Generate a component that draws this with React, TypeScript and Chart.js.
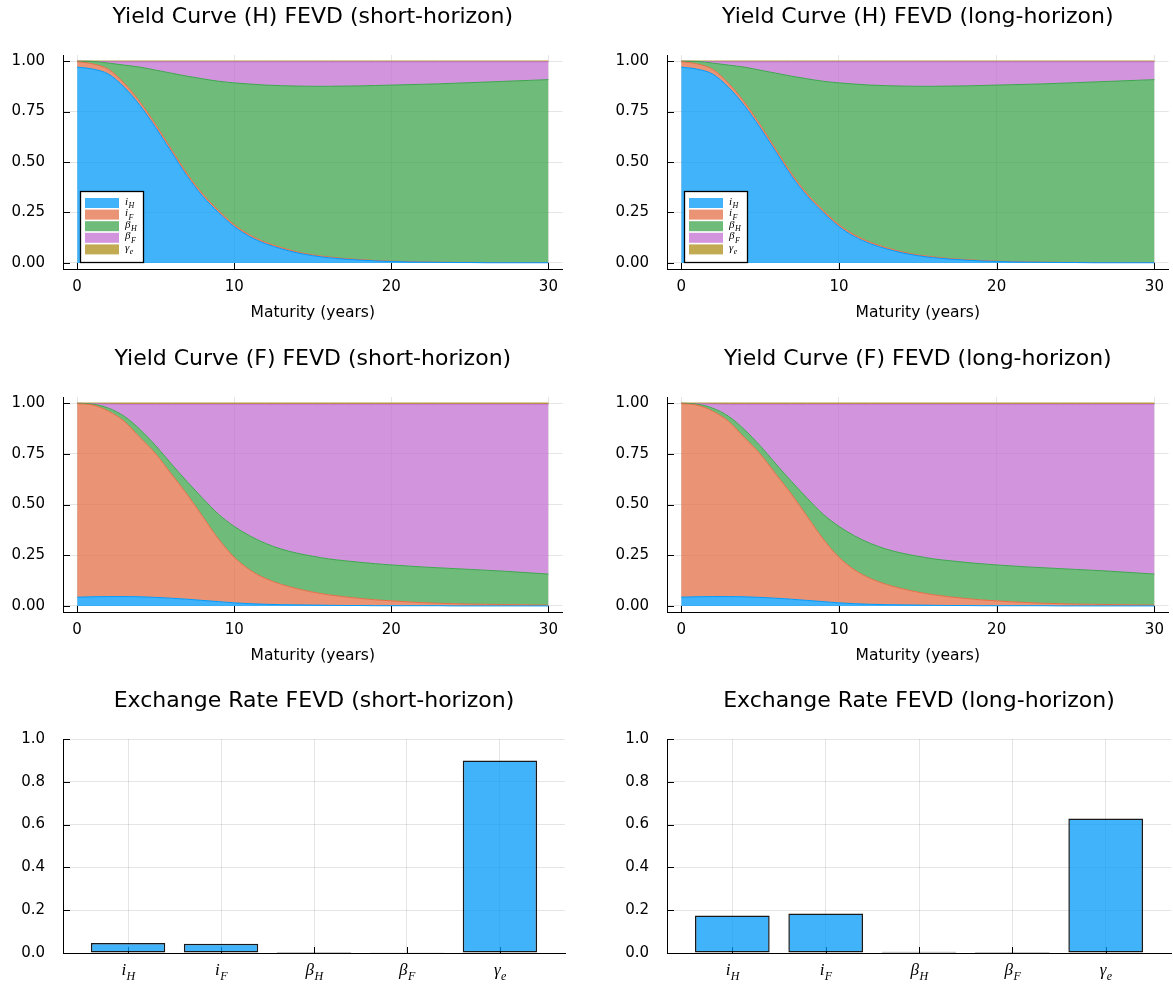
import React, { useEffect, useRef } from "react";
import { Chart, registerables } from "chart.js";

Chart.register(...registerables);

// ---------- data ----------
const maturities = [0, 1, 2, 3, 4, 5, 6, 7, 8, 9, 10, 11, 12, 13, 14, 15, 16, 17, 18, 19, 20, 21, 22, 23, 24, 25, 26, 27, 28, 29, 30];
const shockBase = ["i", "i", "β", "β", "γ"];
const shockSub = ["H", "F", "H", "F", "e"];
const xTicks = [0, 10, 20, 30];
const yTicksArea = [0, 0.25, 0.5, 0.75, 1];
const yTicksBar = [0, 0.2, 0.4, 0.6, 0.8, 1.0];

// Yield curve (H) FEVD shares by shock
const hShort_iH = [0.970, 0.960, 0.935, 0.870, 0.780, 0.670, 0.550, 0.430, 0.330, 0.250, 0.180, 0.130, 0.095, 0.070, 0.050, 0.036, 0.026, 0.019, 0.014, 0.010, 0.007, 0.005, 0.004, 0.003, 0.002, 0.002, 0.001, 0.001, 0.001, 0.001, 0.001];
const hShort_iF = [0.027, 0.026, 0.024, 0.020, 0.017, 0.015, 0.013, 0.012, 0.011, 0.010, 0.009, 0.008, 0.007, 0.006, 0.005, 0.004, 0.004, 0.003, 0.003, 0.002, 0.002, 0.002, 0.001, 0.001, 0.001, 0.001, 0.001, 0.001, 0.001, 0.001, 0.001];
const hShort_bH = [0.002, 0.012, 0.031, 0.090, 0.173, 0.270, 0.377, 0.483, 0.571, 0.640, 0.703, 0.748, 0.779, 0.802, 0.821, 0.835, 0.845, 0.854, 0.860, 0.867, 0.872, 0.876, 0.880, 0.883, 0.887, 0.890, 0.894, 0.897, 0.900, 0.903, 0.906];
const hShort_bF = [0.000, 0.000, 0.007, 0.016, 0.026, 0.041, 0.056, 0.071, 0.084, 0.096, 0.104, 0.110, 0.115, 0.118, 0.120, 0.121, 0.121, 0.120, 0.119, 0.117, 0.115, 0.113, 0.111, 0.109, 0.106, 0.103, 0.100, 0.097, 0.094, 0.091, 0.088];
const hShort_ge = [0.001, 0.002, 0.003, 0.004, 0.004, 0.004, 0.004, 0.004, 0.004, 0.004, 0.004, 0.004, 0.004, 0.004, 0.004, 0.004, 0.004, 0.004, 0.004, 0.004, 0.004, 0.004, 0.004, 0.004, 0.004, 0.004, 0.004, 0.004, 0.004, 0.004, 0.004];

const hLong_iH = [0.970, 0.960, 0.935, 0.870, 0.780, 0.670, 0.550, 0.430, 0.330, 0.250, 0.180, 0.130, 0.095, 0.070, 0.050, 0.036, 0.026, 0.019, 0.014, 0.010, 0.007, 0.005, 0.004, 0.003, 0.002, 0.002, 0.001, 0.001, 0.001, 0.001, 0.001];
const hLong_iF = [0.027, 0.026, 0.024, 0.020, 0.017, 0.015, 0.013, 0.012, 0.011, 0.010, 0.009, 0.008, 0.007, 0.006, 0.005, 0.004, 0.004, 0.003, 0.003, 0.002, 0.002, 0.002, 0.001, 0.001, 0.001, 0.001, 0.001, 0.001, 0.001, 0.001, 0.001];
const hLong_bH = [0.002, 0.012, 0.031, 0.090, 0.173, 0.270, 0.377, 0.483, 0.571, 0.640, 0.703, 0.748, 0.779, 0.802, 0.821, 0.835, 0.845, 0.854, 0.860, 0.867, 0.872, 0.876, 0.880, 0.883, 0.887, 0.890, 0.894, 0.897, 0.900, 0.903, 0.906];
const hLong_bF = [0.000, 0.000, 0.007, 0.016, 0.026, 0.041, 0.056, 0.071, 0.084, 0.096, 0.104, 0.110, 0.115, 0.118, 0.120, 0.121, 0.121, 0.120, 0.119, 0.117, 0.115, 0.113, 0.111, 0.109, 0.106, 0.103, 0.100, 0.097, 0.094, 0.091, 0.088];
const hLong_ge = [0.001, 0.002, 0.003, 0.004, 0.004, 0.004, 0.004, 0.004, 0.004, 0.004, 0.004, 0.004, 0.004, 0.004, 0.004, 0.004, 0.004, 0.004, 0.004, 0.004, 0.004, 0.004, 0.004, 0.004, 0.004, 0.004, 0.004, 0.004, 0.004, 0.004, 0.004];

// Yield curve (F) FEVD shares by shock
const fShort_iH = [0.043, 0.045, 0.046, 0.046, 0.045, 0.042, 0.038, 0.033, 0.027, 0.021, 0.015, 0.011, 0.008, 0.006, 0.005, 0.004, 0.003, 0.002, 0.002, 0.001, 0.001, 0.001, 0.001, 0.001, 0.000, 0.000, 0.000, 0.000, 0.000, 0.000, 0.000];
const fShort_iF = [0.954, 0.945, 0.914, 0.864, 0.785, 0.708, 0.612, 0.517, 0.413, 0.309, 0.225, 0.166, 0.127, 0.100, 0.080, 0.064, 0.052, 0.043, 0.035, 0.029, 0.024, 0.019, 0.015, 0.012, 0.011, 0.009, 0.008, 0.007, 0.006, 0.005, 0.004];
const fShort_bH = [0.002, 0.005, 0.015, 0.025, 0.040, 0.040, 0.050, 0.063, 0.090, 0.122, 0.152, 0.168, 0.173, 0.174, 0.175, 0.177, 0.177, 0.178, 0.178, 0.178, 0.177, 0.177, 0.176, 0.175, 0.173, 0.171, 0.168, 0.165, 0.161, 0.157, 0.153];
const fShort_bF = [0.000, 0.002, 0.020, 0.059, 0.124, 0.204, 0.294, 0.381, 0.464, 0.542, 0.602, 0.649, 0.686, 0.714, 0.734, 0.749, 0.762, 0.771, 0.779, 0.786, 0.792, 0.797, 0.802, 0.806, 0.810, 0.814, 0.818, 0.822, 0.827, 0.832, 0.837];
const fShort_ge = [0.001, 0.003, 0.005, 0.006, 0.006, 0.006, 0.006, 0.006, 0.006, 0.006, 0.006, 0.006, 0.006, 0.006, 0.006, 0.006, 0.006, 0.006, 0.006, 0.006, 0.006, 0.006, 0.006, 0.006, 0.006, 0.006, 0.006, 0.006, 0.006, 0.006, 0.006];

const fLong_iH = [0.043, 0.045, 0.046, 0.046, 0.045, 0.042, 0.038, 0.033, 0.027, 0.021, 0.015, 0.011, 0.008, 0.006, 0.005, 0.004, 0.003, 0.002, 0.002, 0.001, 0.001, 0.001, 0.001, 0.001, 0.000, 0.000, 0.000, 0.000, 0.000, 0.000, 0.000];
const fLong_iF = [0.954, 0.945, 0.914, 0.864, 0.785, 0.708, 0.612, 0.517, 0.413, 0.309, 0.225, 0.166, 0.127, 0.100, 0.080, 0.064, 0.052, 0.043, 0.035, 0.029, 0.024, 0.019, 0.015, 0.012, 0.011, 0.009, 0.008, 0.007, 0.006, 0.005, 0.004];
const fLong_bH = [0.002, 0.005, 0.015, 0.025, 0.040, 0.040, 0.050, 0.063, 0.090, 0.122, 0.152, 0.168, 0.173, 0.174, 0.175, 0.177, 0.177, 0.178, 0.178, 0.178, 0.177, 0.177, 0.176, 0.175, 0.173, 0.171, 0.168, 0.165, 0.161, 0.157, 0.153];
const fLong_bF = [0.000, 0.002, 0.020, 0.059, 0.124, 0.204, 0.294, 0.381, 0.464, 0.542, 0.602, 0.649, 0.686, 0.714, 0.734, 0.749, 0.762, 0.771, 0.779, 0.786, 0.792, 0.797, 0.802, 0.806, 0.810, 0.814, 0.818, 0.822, 0.827, 0.832, 0.837];
const fLong_ge = [0.001, 0.003, 0.005, 0.006, 0.006, 0.006, 0.006, 0.006, 0.006, 0.006, 0.006, 0.006, 0.006, 0.006, 0.006, 0.006, 0.006, 0.006, 0.006, 0.006, 0.006, 0.006, 0.006, 0.006, 0.006, 0.006, 0.006, 0.006, 0.006, 0.006, 0.006];

// Exchange rate FEVD shares
const fxShort = [0.047, 0.043, 0.005, 0.003, 0.899];
const fxLong = [0.175, 0.185, 0.006, 0.005, 0.629];

// ---------- style ----------
const palette = ["#009AFA", "#E36F47", "#3EA44E", "#C371D2", "#AC8E18"];
const fillPalette = [
  "rgba(0,154,250,0.75)",
  "rgba(227,111,71,0.75)",
  "rgba(62,164,78,0.75)",
  "rgba(195,113,210,0.75)",
  "rgba(172,142,24,0.75)",
];
const SANS = "'DejaVu Sans', sans-serif";
const MATH = "'Liberation Serif', 'DejaVu Serif', serif";
const GRID = "rgba(0,0,0,0.1)";

const Y_AXIS_W = 63;
const TITLE_H = 55;

// title centred over the plot area
const plotTitle = {
  id: "plotTitle",
  afterDraw(chart: any, _args: any, opts: any) {
    if (!opts || !opts.text) return;
    const { ctx, chartArea } = chart;
    ctx.save();
    ctx.font = `22px ${SANS}`;
    ctx.fillStyle = "#000";
    ctx.textAlign = "center";
    ctx.textBaseline = "middle";
    ctx.fillText(opts.text, (chartArea.left + chartArea.right) / 2, 17);
    ctx.restore();
  },
};

// inward tick marks
const inwardTicks = {
  id: "inwardTicks",
  beforeDatasetsDraw(chart: any) {
    const { ctx, chartArea, scales } = chart;
    ctx.save();
    ctx.strokeStyle = "#000";
    ctx.lineWidth = 1;
    const xs = scales.x;
    const ys = scales.y;
    xs.ticks.forEach((t: any) => {
      const px = Math.round(xs.getPixelForValue(t.value)) + 0.5;
      ctx.beginPath();
      ctx.moveTo(px, chartArea.bottom);
      ctx.lineTo(px, chartArea.bottom - 6);
      ctx.stroke();
    });
    ys.ticks.forEach((t: any) => {
      const py = Math.round(ys.getPixelForValue(t.value)) + 0.5;
      ctx.beginPath();
      ctx.moveTo(chartArea.left, py);
      ctx.lineTo(chartArea.left + 7, py);
      ctx.stroke();
    });
    ctx.restore();
  },
};

function drawSubText(ctx: any, base: string, sub: string, cx: number, baseY: number, baseSize: number, subSize: number, subDrop: number, centered: boolean) {
  ctx.font = `italic ${baseSize}px ${MATH}`;
  const wb = ctx.measureText(base).width;
  ctx.font = `italic ${subSize}px ${MATH}`;
  const ws = ctx.measureText(sub).width;
  const x0 = centered ? cx - (wb + ws) / 2 : cx;
  ctx.textAlign = "left";
  ctx.textBaseline = "alphabetic";
  ctx.fillStyle = "#000";
  ctx.font = `italic ${baseSize}px ${MATH}`;
  ctx.fillText(base, x0, baseY);
  ctx.font = `italic ${subSize}px ${MATH}`;
  ctx.fillText(sub, x0 + wb + 0.5, baseY + subDrop);
}

const mathLegend = {
  id: "mathLegend",
  afterDraw(chart: any, _args: any, opts: any) {
    if (!opts || !opts.show) return;
    const { ctx, chartArea } = chart;
    const bx = chartArea.left + 17;
    const by = chartArea.bottom - 78;
    ctx.save();
    ctx.fillStyle = "#fff";
    ctx.fillRect(bx, by, 63, 71);
    ctx.strokeStyle = "#000";
    ctx.lineWidth = 1.3;
    ctx.strokeRect(bx + 0.5, by + 0.5, 63, 71);
    for (let i = 0; i < shockBase.length; i++) {
      const cy = by + 12 + i * 11.6;
      ctx.fillStyle = fillPalette[i];
      ctx.fillRect(bx + 5, cy - 5, 34, 10);
      drawSubText(ctx, shockBase[i], shockSub[i], bx + 45, cy + 1.5, 11, 8, 3.5, false);
    }
    ctx.restore();
  },
};

const mathXLabels = {
  id: "mathXLabels",
  afterDraw(chart: any, _args: any, opts: any) {
    if (!opts || !opts.show) return;
    const { ctx, chartArea, scales } = chart;
    ctx.save();
    for (let i = 0; i < shockBase.length; i++) {
      const px = scales.x.getPixelForValue(i);
      drawSubText(ctx, shockBase[i], shockSub[i], px, chartArea.bottom + 22, 17, 12, 5, true);
    }
    ctx.restore();
  },
};

function areaConfig(title: string, series: number[][], legend: boolean) {
  return {
    type: "line",
    data: {
      datasets: series.map((vals, i) => ({
        label: shockBase[i] + "_" + shockSub[i],
        data: maturities.map((m, k) => ({ x: m, y: vals[k] })),
        borderColor: palette[i],
        backgroundColor: fillPalette[i],
        borderWidth: 1,
        pointRadius: 0,
        fill: i === 0 ? "origin" : "-1",
        cubicInterpolationMode: "monotone",
      })),
    },
    options: {
      responsive: false,
      animation: false,
      devicePixelRatio: 1,
      layout: { padding: { left: 0, right: 2, top: TITLE_H, bottom: 0 } },
      plugins: {
        legend: { display: false },
        tooltip: { enabled: false },
        title: { display: false },
        plotTitle: { text: title },
        mathLegend: { show: legend },
      },
      scales: {
        x: {
          type: "linear",
          min: -0.9,
          max: 30.9,
          afterBuildTicks: (s: any) => {
            s.ticks = xTicks.map((v) => ({ value: v }));
          },
          afterFit: (s: any) => {
            s.height = 60;
          },
          ticks: {
            color: "#000",
            font: { family: SANS, size: 15 },
            padding: 9,
            maxRotation: 0,
            autoSkip: false,
            callback: (v: any) => String(v),
          },
          grid: { color: GRID, lineWidth: 1, drawTicks: false },
          border: { color: "#000", width: 1 },
          title: {
            display: true,
            text: "Maturity (years)",
            color: "#000",
            font: { family: SANS, size: 15.5 },
            padding: { top: 0, bottom: 6.7 },
          },
        },
        y: {
          stacked: true,
          min: -0.03,
          max: 1.03,
          afterBuildTicks: (s: any) => {
            s.ticks = yTicksArea.map((v) => ({ value: v }));
          },
          afterFit: (s: any) => {
            s.width = Y_AXIS_W;
          },
          ticks: {
            color: "#000",
            font: { family: SANS, size: 15 },
            padding: 18,
            callback: (v: any) => Number(v).toFixed(2),
          },
          grid: { color: GRID, lineWidth: 1, drawTicks: false },
          border: { color: "#000", width: 1 },
        },
      },
    },
    plugins: [inwardTicks, mathLegend, plotTitle],
  };
}

function barConfig(title: string, vals: number[]) {
  return {
    type: "bar",
    data: {
      datasets: [
        {
          label: "FEVD",
          data: vals.map((v, i) => ({ x: i, y: v })),
          backgroundColor: fillPalette[0],
          borderColor: "rgba(0,0,0,0.9)",
          borderWidth: 1.5,
          borderSkipped: false,
          barPercentage: 1,
          categoryPercentage: 0.8,
        },
      ],
    },
    options: {
      responsive: false,
      animation: false,
      devicePixelRatio: 1,
      layout: { padding: { left: 0, right: 2, top: TITLE_H, bottom: 0 } },
      plugins: {
        legend: { display: false },
        tooltip: { enabled: false },
        title: { display: false },
        plotTitle: { text: title },
        mathXLabels: { show: true },
      },
      scales: {
        x: {
          type: "linear",
          min: -0.7,
          max: 4.7,
          offset: false,
          afterBuildTicks: (s: any) => {
            s.ticks = vals.map((_v, i) => ({ value: i }));
          },
          afterFit: (s: any) => {
            s.height = 34;
          },
          ticks: { display: false },
          grid: { color: GRID, lineWidth: 1, drawTicks: false, offset: false },
          border: { color: "#000", width: 1 },
        },
        y: {
          min: 0,
          max: 1,
          afterBuildTicks: (s: any) => {
            s.ticks = yTicksBar.map((v) => ({ value: v }));
          },
          afterFit: (s: any) => {
            s.width = Y_AXIS_W;
          },
          ticks: {
            color: "#000",
            font: { family: SANS, size: 15 },
            padding: 18,
            callback: (v: any) => Number(v).toFixed(1),
          },
          grid: { color: GRID, lineWidth: 1, drawTicks: false },
          border: { color: "#000", width: 1 },
        },
      },
    },
    plugins: [inwardTicks, mathXLabels, plotTitle],
  };
}

function ChartBox(props: { left: number; top: number; width: number; height: number; make: () => any }) {
  const ref = useRef<HTMLCanvasElement>(null);
  useEffect(() => {
    const chart = new Chart(ref.current as HTMLCanvasElement, props.make());
    return () => chart.destroy();
  }, []);
  return (
    <div style={{ position: "absolute", left: props.left, top: props.top, width: props.width, height: props.height }}>
      <canvas ref={ref} width={props.width} height={props.height} style={{ width: props.width, height: props.height, display: "block" }} />
    </div>
  );
}

export default function App() {
  const leftX = 0;
  const leftW = 567;
  const rightX = 604;
  const rightW = 569;
  return (
    <div style={{ position: "absolute", left: 0, top: 0, width: 1173, height: 987, background: "#fff", overflow: "hidden" }}>
      <ChartBox left={leftX} top={0} width={leftW} height={TITLE_H + 214 + 60}
        make={() => areaConfig("Yield Curve (H) FEVD (short-horizon)", [hShort_iH, hShort_iF, hShort_bH, hShort_bF, hShort_ge], true)} />
      <ChartBox left={rightX} top={0} width={rightW} height={TITLE_H + 214 + 60}
        make={() => areaConfig("Yield Curve (H) FEVD (long-horizon)", [hLong_iH, hLong_iF, hLong_bH, hLong_bF, hLong_ge], true)} />
      <ChartBox left={leftX} top={342} width={leftW} height={TITLE_H + 215 + 60}
        make={() => areaConfig("Yield Curve (F) FEVD (short-horizon)", [fShort_iH, fShort_iF, fShort_bH, fShort_bF, fShort_ge], false)} />
      <ChartBox left={rightX} top={342} width={rightW} height={TITLE_H + 215 + 60}
        make={() => areaConfig("Yield Curve (F) FEVD (long-horizon)", [fLong_iH, fLong_iF, fLong_bH, fLong_bF, fLong_ge], false)} />
      <ChartBox left={leftX} top={684} width={leftW} height={TITLE_H + 214 + 34}
        make={() => barConfig("Exchange Rate FEVD (short-horizon)", fxShort)} />
      <ChartBox left={rightX} top={684} width={rightW} height={TITLE_H + 214 + 34}
        make={() => barConfig("Exchange Rate FEVD (long-horizon)", fxLong)} />
    </div>
  );
}
